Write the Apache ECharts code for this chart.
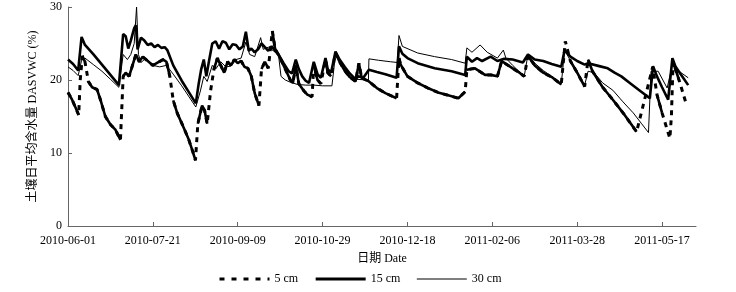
<!DOCTYPE html>
<html>
<head>
<meta charset="utf-8">
<script src="https://cdn.jsdelivr.net/npm/echarts@6/dist/echarts.min.js"></script>
<style>
  html, body { margin: 0; padding: 0; background: #fff; }
  #chart { width: 736px; height: 292px; }
</style>
</head>
<body>
<div id="chart"></div>
<script>
// day offset from 2010-06-01, soil water content (%)
const startDate = Date.UTC(2010, 5, 1);
const tickDays = [0, 50, 100, 150, 200, 250, 300, 350];
const seriesNames = ['5 cm', '15 cm', '30 cm'];

const cm5 = [[0,18.3],[2.4,17.3],[4.5,16.2],[6.3,15.2],[7.2,20.0],[8.5,23.3],[10,22.5],[12,19.8],[14.2,19.0],[17.1,18.7],[19.1,17.3],[22,15.0],[25,13.9],[27.9,13.2],[30.9,11.8],[32.5,20.5],[34,21.0],[36,20.5],[38,22.0],[40,23.5],[42,22.5],[44,23.2],[47,22.6],[50,22.0],[53,22.4],[56,22.8],[58,22.5],[60,20.5],[62,17.2],[64.3,15.5],[68.3,13.4],[71.2,11.8],[73.5,10.2],[75.1,9.0],[76.5,14.0],[79,16.5],[80.5,15.8],[82,14.0],[84,18.5],[86,21.5],[88,23.0],[90,22.0],[92,21.0],[94,22.5],[96,22.0],[98,22.8],[100,22.3],[102,22.6],[104,21.8],[106,21.6],[108,20.5],[110,18.2],[112.5,16.5],[114,21.5],[116,22.5],[118,21.6],[120.4,26.7],[122,24.3],[125,23.0],[128,21.5],[131,20.0],[132.5,19.6],[134.2,22.0],[136,19.5],[139,18.5],[141,18.0],[143.8,17.7],[144.8,22.0],[147,20.0],[149,19.5],[151.7,22.8],[153,21.0],[155,20.5],[157.6,23.7],[160,22.5],[163,21.3],[166,20.4],[169.4,19.8],[171.4,22.3],[173,20.3],[177.3,19.8],[182,18.9],[187,18.2],[193.6,17.5],[195,23.0],[196,22.1],[200,20.5],[206,19.6],[212,18.9],[218,18.3],[224,17.9],[230,17.5],[234,18.4],[235,21.4],[239.8,21.6],[245.7,20.7],[249,20.7],[253,20.5],[255.5,22.6],[258,22.2],[262,21.6],[266,21.0],[268.8,20.5],[271,23.3],[275,22.0],[280,21.0],[285,20.4],[290.6,19.4],[293,25.3],[296,22.6],[300,21.0],[304.4,19.1],[306.4,22.8],[309,21.2],[315,19.0],[321,17.3],[327,15.5],[331,14.2],[335,12.9],[344.5,21.8],[347,18.0],[350,15.5],[354.6,12.0],[355.5,15.0],[356.5,22.5],[360,20.0],[364.4,16.6]];

const cm15 = [[0,22.8],[3,22.2],[6,21.3],[8,25.9],[10,24.8],[15,23.5],[20,22.1],[25,20.7],[30,19.3],[31,19.1],[32.5,26.3],[34,26.0],[35.5,24.3],[37,25.4],[39,27.1],[40,27.5],[41,24.2],[43,25.8],[45,25.4],[47,24.8],[49,25.0],[51,24.5],[53,24.8],[55,24.4],[57,24.5],[58.5,24.1],[62,22.0],[67,19.9],[71,18.4],[75.3,16.8],[77,19.5],[78.5,21.5],[80,22.8],[81.5,20.5],[83,22.5],[85,25.0],[87,25.3],[89,24.3],[91,25.3],[93,25.1],[95,24.2],[97,24.9],[99,24.8],[101,24.2],[103,24.6],[104.8,26.6],[106.5,24.0],[108,24.3],[110,23.8],[112,24.2],[114,25.0],[116,24.5],[118,24.0],[120,24.6],[122,24.0],[124,23.5],[127,22.3],[130,21.2],[132,20.9],[134.2,22.8],[136,21.5],[138,20.5],[140,19.9],[142,19.6],[144.8,22.5],[147,20.8],[149,20.3],[151.7,23.0],[153,21.5],[155,21.0],[157.6,23.9],[160,22.8],[163,21.8],[166,20.9],[169.4,20.1],[171,20.5],[174,20.3],[177.3,21.4],[182,21.1],[187,20.8],[193.6,20.3],[195,24.6],[197,23.6],[200,23.0],[206,22.3],[216,21.6],[226,21.2],[234,20.7],[235,23.2],[238,22.5],[241,23.0],[244,22.6],[249,23.2],[253,22.6],[257,22.9],[262,22.8],[268,22.4],[271,23.5],[275,22.8],[280,22.6],[285,22.2],[290.6,21.8],[292.6,24.1],[296,23.2],[300,22.6],[304.4,22.1],[306.4,22.3],[313,21.9],[318,21.6],[322,21.0],[326,20.5],[331,19.6],[336,18.7],[342.8,17.5],[344.7,21.9],[347,20.5],[350,19.0],[353.6,17.3],[356.1,23.0],[358,21.8],[361,20.8],[365.4,19.3]];

const cm30 = [[0,21.8],[3,21.3],[6,20.6],[8,22.7],[10,23.0],[15,22.1],[20,21.2],[25,20.1],[30,19.0],[31,18.8],[32.5,23.5],[35,22.8],[37,23.5],[39,25.0],[40.4,30.0],[41.5,23.5],[43,22.4],[46,23.0],[50,22.0],[54,21.8],[58,22.0],[62,20.8],[67,19.2],[71,17.8],[75.3,16.3],[78,18.5],[80,20.5],[82,19.8],[85,22.0],[87,21.5],[90,22.5],[93,21.8],[96,21.9],[99,22.8],[102,23.0],[104.8,25.2],[107,23.5],[110,23.2],[113.5,25.8],[115,24.2],[118,24.5],[121,24.0],[124,23.5],[125.5,20.5],[128,20.0],[131,19.7],[135,19.4],[140,19.3],[145,19.3],[150,19.2],[155.5,19.2],[157.6,23.5],[163,21.8],[169.4,20.1],[177,20.0],[177.3,22.9],[183,22.7],[190,22.5],[194,22.4],[195,26.1],[197,24.6],[206,23.7],[216,23.2],[226,22.8],[234,22.3],[235,24.4],[238,23.8],[242.8,24.8],[247,23.8],[253,23.0],[256.5,24.1],[258,23.0],[262,22.0],[268.8,20.5],[271,23.5],[275,22.3],[280,21.3],[285,20.5],[290.6,19.4],[292.6,24.1],[298,21.8],[304.4,19.3],[306.4,21.2],[310,21.0],[315,19.6],[321,18.6],[327,17.0],[333,15.5],[338,14.0],[342,12.8],[343.5,21.2],[347.7,21.2],[353,18.9],[356,22.0],[360,21.2],[365.4,20.3]];

const chart = echarts.init(document.getElementById('chart'), null, { renderer: 'canvas' });

const fontFamily = '"Liberation Serif", "Noto Sans CJK SC", serif';

const dayToDate = (d) => new Date(startDate + d * 86400000).toISOString().slice(0, 10);

// the 5 cm trace looks solid except on its big jumps, where the dashes show
const solidParts = (data, jump) => {
  const out = [];
  data.forEach((p, i) => {
    out.push(p);
    const next = data[i + 1];
    if (next && Math.abs(next[1] - p[1]) > jump) {
      out.push([(p[0] + next[0]) / 2, '-']);
    }
  });
  return out;
};

const legendLines = [
  { color: '#000', width: 3, type: [5, 7] },
  { color: '#000', width: 3, type: 'solid' },
  { color: '#000', width: 1, type: 'solid' }
];

const option = {
  animation: false,
  color: ['#000', '#000', '#000', '#000'],
  grid: { left: 68, right: 40, top: 7, bottom: 66 },
  legend: {
    data: seriesNames.map((name, i) => ({ name: name, lineStyle: legendLines[i] })),
    left: 213,
    top: 268,
    itemWidth: 50,
    itemHeight: 8,
    itemGap: 16,
    itemStyle: { opacity: 0 },
    textStyle: { fontFamily: fontFamily, fontSize: 12, color: '#000' }
  },
  xAxis: {
    type: 'value',
    min: 0,
    max: 370,
    interval: 50,
    name: '日期 Date',
    nameLocation: 'middle',
    nameGap: 27,
    nameTextStyle: { fontFamily: fontFamily, fontSize: 12, color: '#000' },
    splitLine: { show: false },
    axisLine: { lineStyle: { color: '#666', width: 1 } },
    axisTick: { inside: true, length: 4, customValues: tickDays, lineStyle: { color: '#666' } },
    axisLabel: {
      customValues: tickDays,
      margin: 9,
      fontFamily: fontFamily,
      fontSize: 12,
      color: '#000',
      formatter: (v) => dayToDate(v)
    }
  },
  yAxis: {
    type: 'value',
    min: 0,
    max: 30,
    interval: 10,
    name: '土壤日平均含水量 DASVWC (%)',
    nameLocation: 'middle',
    nameGap: 29,
    nameRotate: 90,
    nameTextStyle: { fontFamily: fontFamily, fontSize: 12, color: '#000' },
    splitLine: { show: false },
    axisLine: { show: true, lineStyle: { color: '#666', width: 1 } },
    axisTick: { show: true, inside: true, length: 4, lineStyle: { color: '#666' } },
    axisLabel: { margin: 6, fontFamily: fontFamily, fontSize: 12, color: '#000' }
  },
  series: [
    {
      name: '5 cm',
      type: 'line',
      data: cm5,
      symbol: 'none',
      silent: true,
      z: 3,
      lineStyle: { color: '#000', width: 3, type: [5, 5] }
    },
    {
      name: '5 cm',
      type: 'line',
      data: solidParts(cm5, 2.5),
      symbol: 'none',
      silent: true,
      connectNulls: false,
      z: 3,
      lineStyle: { color: '#000', width: 2.6 }
    },
    {
      name: '15 cm',
      type: 'line',
      data: cm15,
      symbol: 'none',
      silent: true,
      z: 2,
      lineStyle: { color: '#000', width: 2.6 }
    },
    {
      name: '30 cm',
      type: 'line',
      data: cm30,
      symbol: 'none',
      silent: true,
      z: 4,
      lineStyle: { color: '#000', width: 1 }
    }
  ]
};

chart.setOption(option);
</script>
</body>
</html>
